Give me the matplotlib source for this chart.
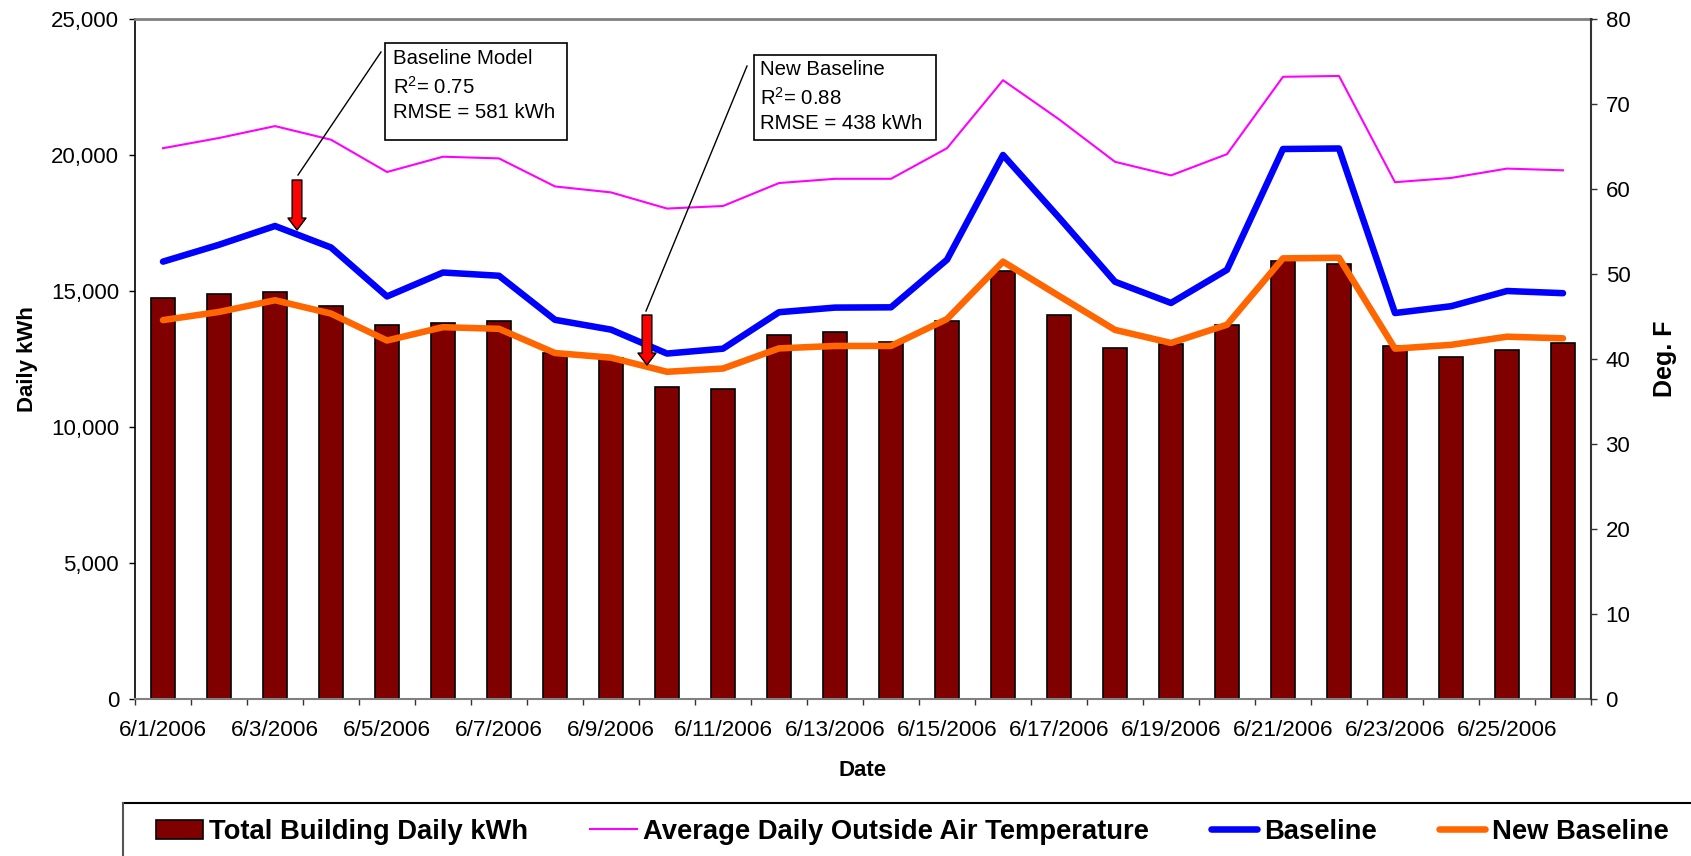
import matplotlib
matplotlib.use("Agg")
import matplotlib.pyplot as plt
from matplotlib.patches import Rectangle
from matplotlib.lines import Line2D
from matplotlib.ticker import FuncFormatter
import numpy as np

plt.rcParams['font.family'] = ['Liberation Sans', 'DejaVu Sans']
plt.rcParams['mathtext.fontset'] = 'custom'
plt.rcParams['mathtext.rm'] = 'Liberation Sans'
plt.rcParams['mathtext.it'] = 'Liberation Sans:italic'
plt.rcParams['mathtext.bf'] = 'Liberation Sans:bold'

# ---------------- data ----------------
dates = ["6/1/2006", "6/2/2006", "6/3/2006", "6/4/2006", "6/5/2006", "6/6/2006",
         "6/7/2006", "6/8/2006", "6/9/2006", "6/10/2006", "6/11/2006", "6/12/2006",
         "6/13/2006", "6/14/2006", "6/15/2006", "6/16/2006", "6/17/2006", "6/18/2006",
         "6/19/2006", "6/20/2006", "6/21/2006", "6/22/2006", "6/23/2006", "6/24/2006",
         "6/25/2006", "6/26/2006"]
total_kwh = [14750, 14900, 14980, 14450, 13760, 13830, 13890, 12720, 12520, 11470,
             11410, 13370, 13500, 13110, 13890, 15740, 14120, 12920, 13060, 13760,
             16100, 16000, 12990, 12570, 12840, 13090]
avg_temp = [64.8, 66.0, 67.4, 65.8, 62.0, 63.8, 63.6, 60.3, 59.6, 57.7, 58.0, 60.7,
            61.2, 61.2, 64.8, 72.8, 68.2, 63.2, 61.6, 64.1, 73.2, 73.3, 60.8, 61.3,
            62.4, 62.2]
baseline = [16080, 16700, 17390, 16600, 14800, 15680, 15560, 13940, 13580, 12700,
            12880, 14220, 14390, 14400, 16150, 20000, 17700, 15340, 14560, 15780,
            20220, 20240, 14190, 14440, 15000, 14920]
new_baseline = [13930, 14230, 14660, 14170, 13180, 13670, 13610, 12720, 12550, 12030,
                12150, 12890, 12980, 12980, 13970, 16080, 14820, 13570, 13090, 13760,
                16200, 16220, 12880, 13020, 13320, 13260]
kwh_ticks = [0, 5000, 10000, 15000, 20000, 25000]
temp_ticks = [0, 10, 20, 30, 40, 50, 60, 70, 80]
series_names = ["Total Building Daily kWh", "Average Daily Outside Air Temperature",
                "Baseline", "New Baseline"]
box1_lines = ["Baseline Model", "R$^2$= 0.75", "RMSE = 581 kWh"]
box2_lines = ["New Baseline", "R$^2$= 0.88", "RMSE = 438 kWh"]

# ---------------- figure ----------------
W, H = 1691, 856
fig = plt.figure(figsize=(W / 100, H / 100), dpi=100)
L, R, T, B = 135, 1591, 19, 699
ax = fig.add_axes([L / W, 1 - B / H, (R - L) / W, (B - T) / H])

x = np.arange(len(dates))
bars = ax.bar(x, total_kwh, width=0.42, color='#800000', edgecolor='black',
              linewidth=1.2, zorder=2)
l_base, = ax.plot(x, baseline, color='#0000FF', lw=4.7, zorder=3,
                  solid_capstyle='round')
l_new, = ax.plot(x, new_baseline, color='#FF6600', lw=4.7, zorder=3,
                 solid_capstyle='round')
ax.set_xlim(-0.5, len(dates) - 0.5)
ax.set_ylim(0, 25000)

ax2 = ax.twinx()
l_temp, = ax2.plot(x, avg_temp, color='#FF00FF', lw=1.5, zorder=3)
ax2.set_ylim(0, 80)

# ticks
ax.set_yticks(kwh_ticks)
ax.yaxis.set_major_formatter(FuncFormatter(lambda v, p: f"{v:,.0f}"))
ax.tick_params(axis='y', direction='out', length=4.5, width=1, labelsize=16, pad=7)
ax2.set_yticks(temp_ticks)
ax2.tick_params(axis='y', direction='out', length=4.5, width=1, labelsize=16, pad=6,
                color='#333333')

ax.set_xticks(np.arange(-0.5, len(dates), 1.0))
ax.set_xticks(x[::2], minor=True)
ax.set_xticklabels(dates[::2], minor=True)
ax.tick_params(axis='x', which='major', direction='out', length=4.5, width=1,
               labelbottom=False, color='#333333')
ax.tick_params(axis='x', which='minor', length=0, pad=15, labelsize=16.2)

# spines
ax.spines['top'].set_color('#808080')
ax.spines['top'].set_linewidth(2)
ax.spines['bottom'].set_color('#808080')
ax.spines['bottom'].set_linewidth(1.5)
ax.spines['left'].set_color('black')
ax.spines['left'].set_linewidth(1.2)
ax.spines['right'].set_visible(False)
for s in ['top', 'bottom', 'left']:
    ax2.spines[s].set_visible(False)
ax2.spines['right'].set_color('#333333')
ax2.spines['right'].set_linewidth(1.5)

# labels
ax.set_ylabel("Daily kWh", fontsize=16, fontweight='bold', labelpad=9)
ax2.set_ylabel("Deg. F", fontsize=18, fontweight='bold', labelpad=16)
ax.set_xlabel("Date", fontsize=16, fontweight='bold')
ax.xaxis.set_label_coords(0.5, -0.09)


# ---------------- annotations ----------------
def px(xp):
    return (xp - L) / (R - L)


def py(yp):
    return (B - yp) / (B - T)


def note(box, lines, tx, baselines, leader, arrow_x, arrow_y):
    (bx0, by0, bx1, by1) = box
    ax2.add_patch(Rectangle((px(bx0), py(by1)), px(bx1) - px(bx0), py(by0) - py(by1),
                            transform=ax2.transAxes, facecolor='white',
                            edgecolor='black', lw=1.2, zorder=5, clip_on=False))
    for s, yb in zip(lines, baselines):
        ax2.text(px(tx), py(yb), s, transform=ax2.transAxes, fontsize=14.7,
                 va='baseline', ha='left', zorder=6)
    (x0, y0), (x1, y1) = leader
    ax2.plot([px(x0), px(x1)], [py(y0), py(y1)], transform=ax2.transAxes,
             color='black', lw=1, zorder=5, clip_on=False)
    ax2.annotate('', xy=(px(arrow_x), py(arrow_y[1])),
                 xytext=(px(arrow_x), py(arrow_y[0])),
                 xycoords='axes fraction', textcoords='axes fraction',
                 arrowprops=dict(arrowstyle='simple,head_length=8.6,head_width=13,tail_width=7',
                                 mutation_scale=1, fc='#FF0000', ec='black', lw=1,
                                 shrinkA=0, shrinkB=0), zorder=6)


note((385, 43, 567, 140), box1_lines, 393, [64, 94, 117.5],
     ((381, 52), (298, 175)), 297, (180, 230))
note((754, 55, 936, 140), box2_lines, 760, [75, 105, 128.5],
     ((747, 66), (646, 311)), 647, (315, 365))

# ---------------- legend ----------------
leg = fig.legend([bars, l_temp, l_base, l_new], series_names,
                 loc='center left', bbox_to_anchor=(156 / W, 1 - 832 / H),
                 ncol=4, frameon=False, prop=dict(weight='bold', size=19.7),
                 handlelength=1.7, handletextpad=0.25, columnspacing=2.25,
                 borderpad=0, borderaxespad=0)
fig.add_artist(Line2D([123 / W, 1.0], [1 - 803 / H, 1 - 803 / H],
                      transform=fig.transFigure, color='black', lw=1.5))
fig.add_artist(Line2D([123 / W, 123 / W], [1 - 803 / H, 0.0],
                      transform=fig.transFigure, color='#555555', lw=1.5))

fig.savefig("out.png", dpi=100, facecolor='white')
